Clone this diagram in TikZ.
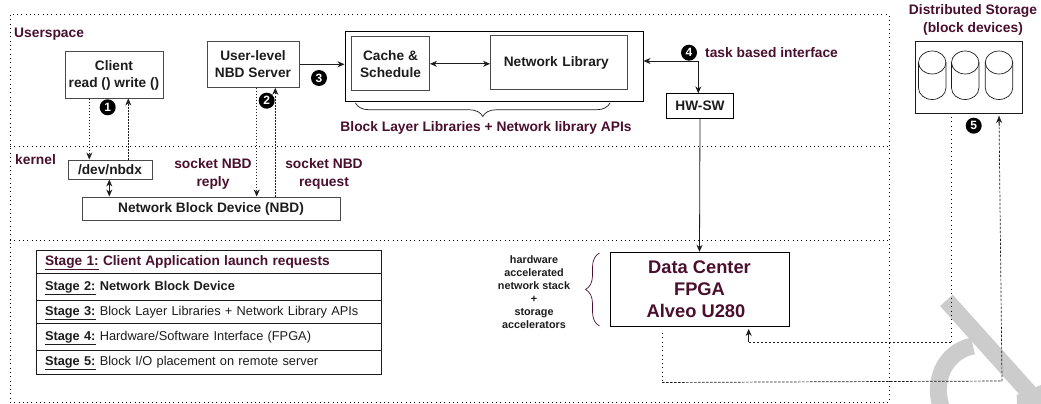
\documentclass[tikz,border=0pt]{standalone}
\usepackage{fontspec}
\setmainfont{Liberation Sans}
\usetikzlibrary{positioning,arrows.meta,decorations.pathreplacing}
\definecolor{maroon}{HTML}{4A0F2E}
\definecolor{inkgray}{HTML}{1C1C1C}
\definecolor{markgray}{HTML}{CCCCCC}
\tikzset{%
  zone/.style = {draw=black,line width=1pt,dash pattern=on 1pt off 3.3pt},
  solidarrow/.style = {-{Stealth[length=7pt,width=6pt]},draw=inkgray,line width=0.8pt},
  botharrow/.style = {{Stealth[length=7pt,width=6pt]}-{Stealth[length=7pt,width=6pt]},draw=inkgray,line width=0.8pt},
  dotarrow/.style = {-{Stealth[length=7pt,width=6pt]},draw=inkgray,line width=0.7pt,dash pattern=on 1.5pt off 1.5pt},
  dotline/.style = {draw=black,line width=1pt,dash pattern=on 1pt off 3.3pt},
  dashline/.style = {draw=inkgray,line width=0.7pt,dash pattern=on 2.5pt off 1.5pt},
  box/.style = {rectangle,draw=inkgray!80,line width=1pt,align=center,font=\fontsize{13.7}{17}\selectfont\bfseries,text=inkgray,inner sep=0pt},
  lab/.style = {align=center,font=\fontsize{13.8}{17.5}\selectfont\bfseries,text=maroon,inner sep=0pt},
  num/.style = {circle,fill=black,text=white,inner sep=0pt,minimum size=16pt,font=\fontsize{12}{12}\selectfont\bfseries},
  stagerow/.style = {rectangle,draw=inkgray,line width=0.8pt,outer sep=0pt,minimum width=345pt,anchor=north west,text width=327pt,text height=10pt,text depth=3pt,align=left,inner sep=0pt,text=inkgray,font=\fontsize{12.8}{15}\selectfont}
}
\begin{document}
\begin{tikzpicture}[x=1pt,y=-1pt]
\useasboundingbox (0,0) rectangle (1041,404);
% watermark
\draw[markgray,line width=17pt] (946.4,300.4) -- (1050,415.8);
\draw[markgray,line width=17pt] (973,346) .. controls (950,350) and (930,375) .. (942,410);
\fill[markgray] (1016.7,395) -- (1041,385) -- (1041,404) -- (1017,404) -- cycle;
% zones
\draw[zone] (10,15) rectangle (889,402);
\draw[zone] (10,146.5) -- (889,146.5);
\draw[zone] (10,240) -- (889,240);
\node[lab,anchor=west] (userspace) at (14,34.5) {Userspace};
\node[lab,anchor=west] (kernel) at (15,160) {kernel};
% userspace boxes
\node[box,minimum width=98pt,minimum height=46pt] (client) at (114,75) {Client\\read () write ()};
\node[box,minimum width=84pt,minimum height=19pt] (nbdx) at (110,169.5) {/dev/nbdx};
\node[box,minimum width=258pt,minimum height=23pt] (nbd) at (211,208.5) {Network Block Device (NBD)};
\node[box,minimum width=92pt,minimum height=46pt] (server) at (253,64.3) {User-level\\NBD Server};
\node[box,minimum width=298pt,minimum height=69.5pt,draw=black] (blocklayer) at (494,66.5) {};
\node[box,minimum width=78pt,minimum height=54pt] (cache) at (390.5,63.8) {Cache \&\\Schedule};
\node[box,minimum width=137pt,minimum height=54pt,text width=137pt,align=left] (netlib) at (559,62.8) {\hspace*{13.3pt}Network Library};
\node[box,minimum width=66.5pt,minimum height=24.3pt,draw=black] (hwsw) at (700,106) {HW-SW};
\node[box,minimum width=179pt,minimum height=74pt,draw=black,text=maroon,font=\fontsize{18.3}{22}\selectfont\bfseries] (fpga) at (699.5,289.3) {Data Center\\FPGA\\Alveo U280\hspace*{7pt}};
\node[lab] (blocklabel) at (486,128.3) {Block Layer Libraries + Network library APIs};
\node[lab] (replylabel) at (213,174) {socket NBD\\reply};
\node[lab] (requestlabel) at (324,174) {socket NBD\\request};
\node[lab,anchor=west] (tasklabel) at (705,52.3) {task based interface};
\node[lab] (storagelabel) at (973,20) {Distributed Storage\\(block devices)};
\node[align=center,inner sep=0pt,text=inkgray,font=\fontsize{10.8}{13}\selectfont\bfseries] (accellabel) at (534,292.5) {hardware\\accelerated\\network stack\\+\\storage\\accelerators};
% numbers
\node[num] (n1) at (107.7,107.3) {1};
\node[num] (n2) at (266.7,100.7) {2};
\node[num] (n3) at (319,78) {3};
\node[num] (n4) at (689,52.7) {4};
\node[num] (n5) at (973.7,125.7) {5};
% storage
\node[box,minimum width=107pt,minimum height=72.3pt,draw=inkgray] (storage) at (969.2,77.2) {};
\foreach \cx in {932.2,965.2,999}{
  \draw[inkgray,line width=0.7pt] (\cx,62.5) ellipse [x radius=13.7pt,y radius=11.5pt];
  \draw[inkgray,line width=0.7pt] (\cx-13.7,62.5) -- (\cx-13.7,88) arc[start angle=180,end angle=360,x radius=13.7pt,y radius=11.5pt] -- (\cx+13.7,62.5);
}
% connectors
\coordinate (clientdown) at (89.3,98);
\draw[dotarrow] (client.south -| clientdown) -- (nbdx.north -| clientdown);
\coordinate (clientup) at (128.3,98);
\draw[dotarrow] (nbdx.north -| clientup) -- (client.south -| clientup);
\coordinate (nbdxlink) at (109.3,180);
\draw[botharrow] (nbdx.south -| nbdxlink) -- (nbd.north -| nbdxlink);
\coordinate (replyline) at (256.7,100);
\draw[dotarrow] (server.south -| replyline) -- (nbd.north -| replyline);
\coordinate (requestline) at (275.3,100);
\draw[dotarrow] (nbd.north -| requestline) -- (server.south -| requestline);
\draw[solidarrow] (server.east) -- (blocklayer.west |- server.east);
\draw[botharrow] (cache.east) -- (netlib.west |- cache.east);
\coordinate (taskcorner) at (698.3,61);
\draw[botharrow] (blocklayer.east |- taskcorner) -- (taskcorner) -- (hwsw.north -| taskcorner);
\draw[solidarrow] (hwsw.south) -- (fpga.north);
% fpga to storage
\coordinate (fpgaout) at (662,333);
\coordinate (fpgacorner) at (662,382.5);
\coordinate (fpgain) at (748.7,329);
\coordinate (fpgainturn) at (748.7,342.3);
\coordinate (storageout) at (951,117);
\coordinate (storageturn) at (951,342.3);
\coordinate (storagein) at (999,116);
\coordinate (storagecorner) at (1002,381);
\draw[dotline] (fpgaout) -- (fpgacorner);
\draw[dashline] (fpgacorner) -- (storagecorner) -- (storagein);
\draw[solidarrow] (999.2,126) -- (storagein);
\draw[dotline] (storageout) -- (storageturn);
\draw[dashline] (storageturn) -- (fpgainturn);
\draw[solidarrow] (fpgainturn) -- (fpgain);
% braces
\draw[inkgray,line width=0.7pt,decorate,decoration={brace,mirror,amplitude=13.5pt}] (355.5,103) -- (610,103);
\draw[maroon,line width=0.7pt,decorate,decoration={brace,amplitude=14pt}] (599.5,326) -- (599.5,253);
% stages
\node[stagerow,minimum height=22.3pt,text=maroon] (stage1) at (36,250.7) {\bfseries\fontsize{13.7}{15}\selectfont\underline{Stage 1:} Client Application launch requests};
\node[stagerow,minimum height=27pt,below=0pt of stage1.south west,anchor=north west] (stage2) {\bfseries\underline{Stage 2:} Network Block Device};
\node[stagerow,minimum height=23.6pt,below=0pt of stage2.south west,anchor=north west] (stage3) {\underline{\bfseries Stage 3:} Block Layer Libraries + Network Library APIs};
\node[stagerow,minimum height=26.4pt,below=0pt of stage3.south west,anchor=north west] (stage4) {\underline{\bfseries Stage 4:} Hardware/Software Interface (FPGA)};
\node[stagerow,minimum height=24pt,below=0pt of stage4.south west,anchor=north west] (stage5) {\underline{\bfseries Stage 5:} Block I/O placement on remote server};
\end{tikzpicture}
\end{document}
